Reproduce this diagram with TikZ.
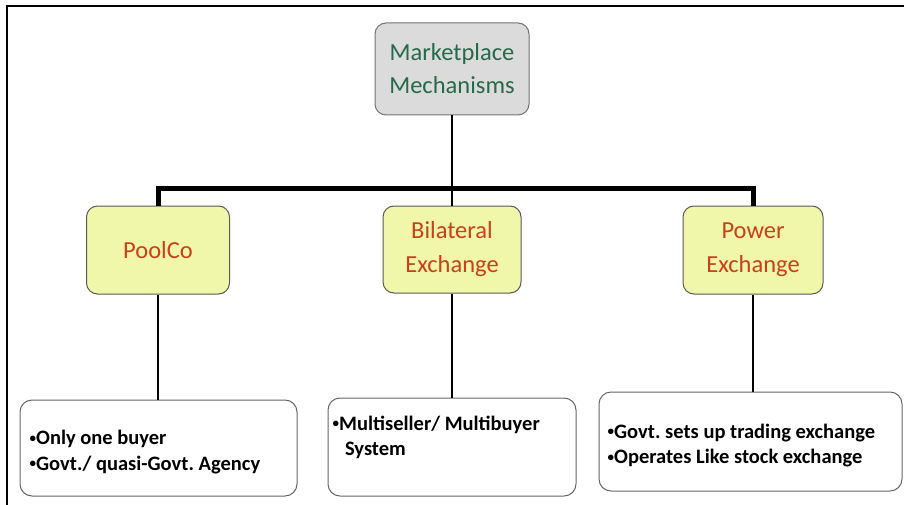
\documentclass[tikz,border=0pt]{standalone}
\usepackage{fontspec}
\setmainfont{Carlito}
\newcommand{\bul}{\raisebox{0.12em}{\fontsize{13}{13}\selectfont\textbullet}}
\begin{document}
\frenchspacing
\begin{tikzpicture}[x=1pt,y=-1pt,
  headbox/.style={draw=black!55, line width=1pt, fill=gray!28, rounded corners=11pt,
    text={rgb,255:red,38;green,105;blue,75}, font=\fontsize{24.5}{33}\selectfont, align=center},
  kindbox/.style={draw=black!65, line width=1pt, fill={rgb,255:red,240;green,247;blue,170},
    rounded corners=11pt, text={rgb,255:red,200;green,65;blue,25},
    font=\fontsize{24.5}{34}\selectfont, align=center},
  notebox/.style={draw=black!60, line width=1pt, fill=white, rounded corners=12pt},
  notetext/.style={font=\bfseries\fontsize{20.5}{25.5}\selectfont, align=left, inner sep=0pt},
  thin/.style={line width=2pt},
  thick/.style={line width=5pt}]
\useasboundingbox (0,0) rectangle (904,505);
\fill[white] (0,0) rectangle (904,505);
% page frame
\draw[line width=1.3pt] (7,505) -- (7,6) -- (904,6);

% root
\node[headbox, minimum width=154pt, minimum height=92pt] (root) at (452,69)
  {Marketplace\\Mechanisms};

% the three mechanisms
\node[kindbox, minimum width=143pt, minimum height=88pt] (pool) at (158,250) {PoolCo};
\node[kindbox, minimum width=138pt, minimum height=87pt] (bil) at (452,249.5)
  {Bilateral\\Exchange};
\node[kindbox, minimum width=140pt, minimum height=88pt] (pow) at (753,250)
  {Power\\Exchange};

% note boxes
\node[notebox, minimum width=277pt, minimum height=96pt] (n1) at (158.5,448) {};
\node[notebox, minimum width=248pt, minimum height=98pt] (n2) at (452,447) {};
\node[notebox, minimum width=303pt, minimum height=99pt] (n3) at (750.5,441.5) {};

% note texts
\node[notetext, anchor=west] (n1t) at ([xshift=10pt,yshift=-4pt]n1.west)
  {\bul Only one buyer\\\bul Govt./ quasi-Govt. Agency};
\node[notetext, anchor=north west] (n2t) at ([xshift=5pt,yshift=-18pt]n2.north west)
  {\bul Multiseller/ Multibuyer\\\hspace*{0.6em}System};
\node[notetext, anchor=west] (n3t) at ([xshift=9pt,yshift=-4pt]n3.west)
  {\bul Govt. sets up trading exchange\\\bul Operates Like stock exchange};

% connectors
\draw[thin] (root.south) -- (bil.north);
\draw[thick] (pool.north) -- ++(0,-17) -| (pow.north);
\draw[thin] (pool.south) -- (n1.north -| pool.south);
\draw[thin] (bil.south) -- (n2.north);
\draw[thin] (pow.south) -- (n3.north -| pow.south);
\end{tikzpicture}
\end{document}
